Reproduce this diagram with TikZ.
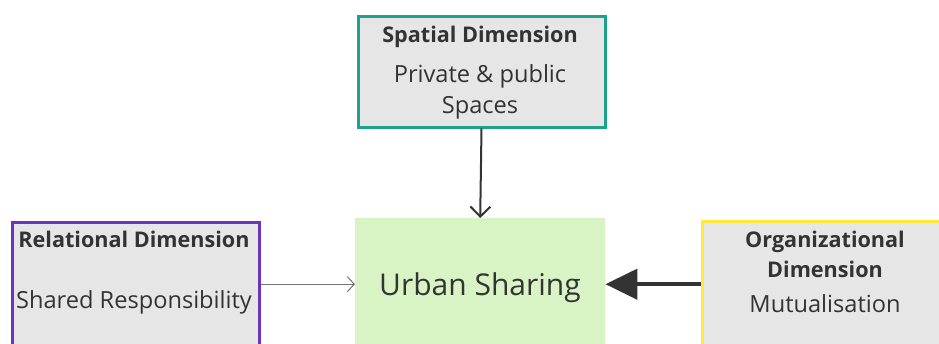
\documentclass[tikz,border=0pt]{standalone}
\usepackage{fontspec}
\setmainfont{Open Sans}
\usetikzlibrary{arrows.meta}
\definecolor{boxgray}{HTML}{E6E6E6}
\definecolor{usgreen}{HTML}{D9F4C4}
\definecolor{teal1}{HTML}{1AA58A}
\definecolor{purple1}{HTML}{6B35B5}
\definecolor{yellow1}{HTML}{FFE93B}
\definecolor{txt}{HTML}{333333}
\tikzset{
  dimbox/.style={draw, line width=3pt, fill=boxgray, inner sep=0pt, anchor=north west},
  ttl/.style={font=\fontsize{21.6}{26}\selectfont\bfseries, text=txt, anchor=base, inner sep=0pt},
  sub/.style={font=\fontsize{23.6}{28}\selectfont, text=txt, anchor=base, inner sep=0pt},
}
\begin{document}
\begin{tikzpicture}[x=1pt,y=-1pt]
\useasboundingbox (0,0) rectangle (939,343);
\clip (0,0) rectangle (939,343);
% boxes
\node[dimbox, draw=teal1, minimum width=247pt, minimum height=111pt] (sp) at (356.5,14.5) {};
\node[dimbox, draw=purple1, minimum width=247pt, minimum height=130pt] (rel) at (10.5,220.5) {};
\node[fill=usgreen, inner sep=0pt, minimum width=250pt, minimum height=132pt, anchor=north west] (us) at (355,218) {};
\node[dimbox, draw=yellow1, minimum width=250pt, minimum height=130pt] (org) at (700.5,219.5) {};
% texts
\node[ttl] (spt) at (480,42) {Spatial Dimension};
\node[sub] (sps1) at (480,82) {Private \& public};
\node[sub] (sps2) at (480,113) {Spaces};
\node[ttl] (relt) at (134,247) {Relational Dimension};
\node[sub] (rels) at (134,308) {Shared Responsibility};
\node[font=\fontsize{30}{36}\selectfont, text=txt, anchor=base, inner sep=0pt] (ust) at (480,295) {Urban Sharing};
\node[ttl] (orgt1) at (825,247) {Organizational};
\node[ttl] (orgt2) at (825,277) {Dimension};
\node[sub] (orgs) at (825,312) {Mutualisation};
% connectors
\draw[line width=2pt, draw=txt, -{Straight Barb[length=10pt,width=20pt,line width=2pt]}] (sp.south) -- (us.north);
\draw[line width=1pt, draw=black!55, -{Straight Barb[length=7pt,width=15pt,line width=1pt]}] (rel.east |- us.west) -- (us.west);
\draw[line width=4.5pt, draw=txt, -{Triangle[length=32pt,width=30pt]}] (org.west |- us.east) -- (us.east);
\end{tikzpicture}
\end{document}
